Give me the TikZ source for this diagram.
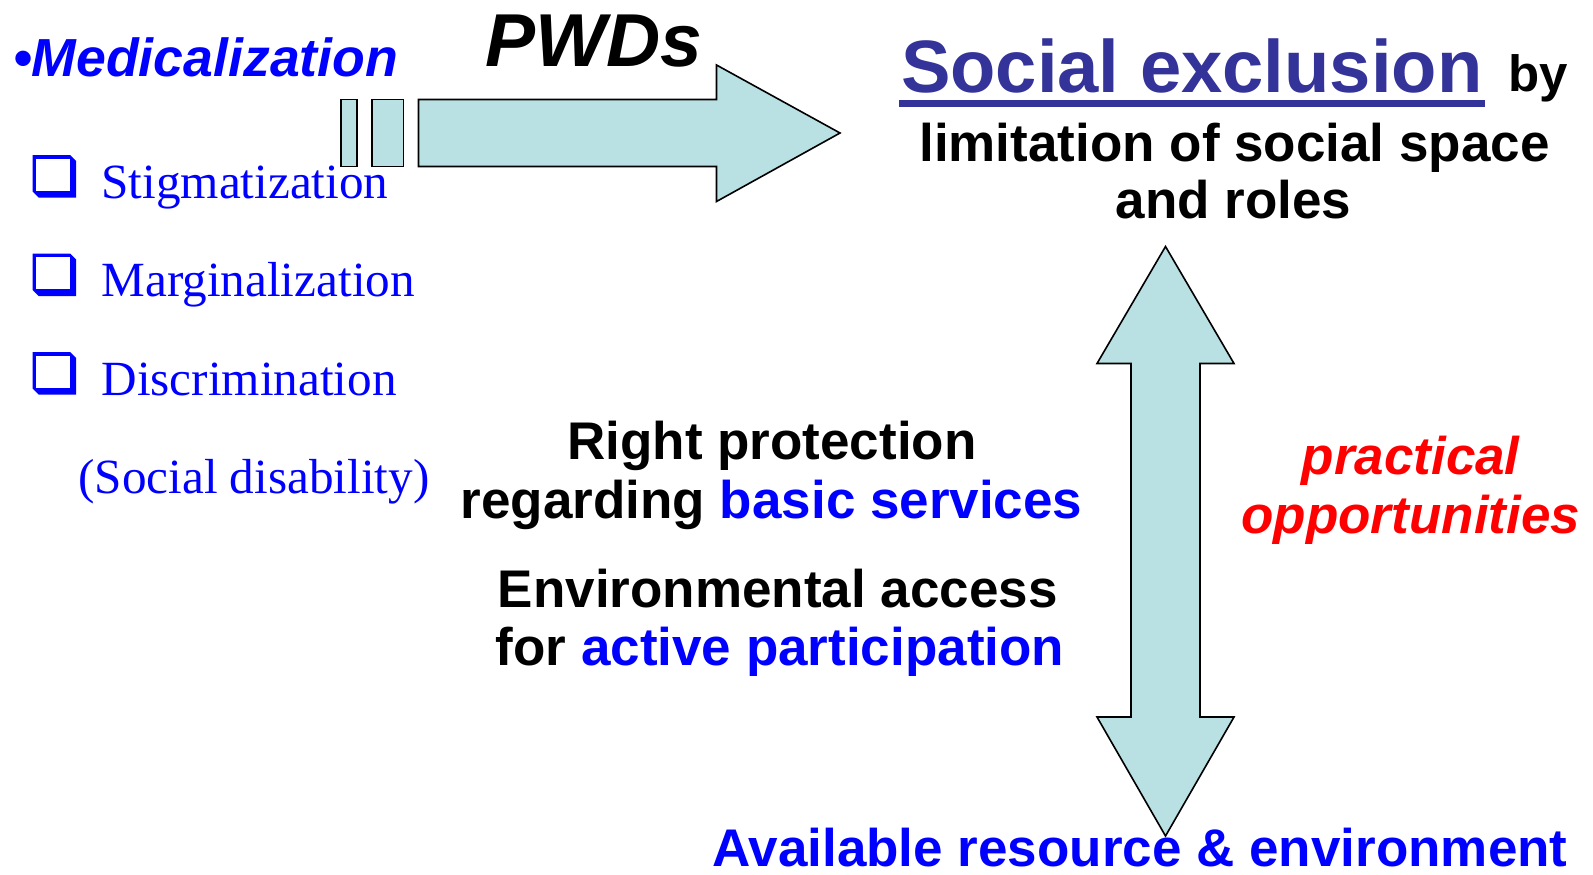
\documentclass[tikz,border=0pt]{standalone}
\usepackage{fontspec}
\setmainfont{Liberation Serif}
\newfontfamily\arial{Liberation Sans}
\definecolor{pblue}{HTML}{0000FF}
\definecolor{sxblue}{HTML}{333399}
\definecolor{afill}{HTML}{B9E0E3}
\definecolor{pred}{HTML}{FF0000}
\begin{document}
\begin{tikzpicture}[x=0.5pt,y=-0.5pt,
  txt/.style={inner sep=0pt, outer sep=0pt},
  ashape/.style={draw=black, fill=afill, line width=0.8pt, line join=miter},
  serifitem/.style={txt, anchor=base west, text=pblue, font=\fontsize{24.6pt}{28pt}\selectfont},
  sansb/.style={txt, font=\arial\bfseries\fontsize{26.5pt}{30pt}\selectfont},
  qbox/.pic={
    \fill[pblue] (0,0) -- (37.5,0) -- (43.5,6) -- (43.5,42.5) -- (6,42.5) -- (0,36.5) -- cycle;
    \fill[white] (3.5,3.5) rectangle (37.3,35.5);
  }]
\useasboundingbox (0,0) rectangle (1593,874);

% top arrow
\draw[ashape] (341,99.5) rectangle (357,166.5);
\draw[ashape] (372,99.5) rectangle (403.5,166.5);
\draw[ashape] (418.5,99.5) -- (716.5,99.5) -- (716.5,65) -- (840,133) -- (716.5,201.5) -- (716.5,166.5) -- (418.5,166.5) -- cycle;

% vertical double arrow
\draw[ashape] (1165.5,246.5) -- (1234,363.5) -- (1200,363.5) -- (1200,717) -- (1234,717) -- (1165.5,836) -- (1097,717) -- (1131,717) -- (1131,363.5) -- (1097,363.5) -- cycle;

% left column
\node[txt, anchor=base west, text=pblue, font=\arial\bfseries\itshape\fontsize{26.8pt}{30pt}\selectfont] (med) at (13,76) {•Medicalization};
\node[txt, anchor=base west, font=\arial\bfseries\itshape\fontsize{37.5pt}{40pt}\selectfont] (pwd) at (485.6,66) {PWDs};

\pic at (32.7,155) {qbox};
\pic at (32.7,253.5) {qbox};
\pic at (32.7,352) {qbox};
\node[serifitem] (stig) at (101.5,198.3) {Stigmatization};
\node[serifitem] (marg) at (101.5,296) {Marginalization};
\node[serifitem] (disc) at (101.5,395) {Discrimination};
\node[serifitem] (sdis) at (78.3,493) {(Social disability)};

% top right
\node[txt, anchor=base west, text=sxblue, font=\arial\bfseries\fontsize{37.1pt}{40pt}\selectfont] (sx) at (901,92.5) {Social exclusion};
\fill[sxblue] (899,100) rectangle (1485,106.5);
\node[txt, anchor=base west, font=\arial\bfseries\fontsize{25.5pt}{28pt}\selectfont] (by) at (1508,91.7) {by};
\node[sansb, anchor=base] (lim) at (1234.5,161) {limitation of social space};
\node[sansb, anchor=base] (roles) at (1233.5,218) {and roles};

% middle
\node[sansb, anchor=base] (rp1) at (772,459) {Right protection};
\node[sansb, anchor=base] (rp2) at (771.6,518) {regarding \textcolor{pblue}{basic services}};
\node[sansb, anchor=base] (ea1) at (777.7,607.6) {Environmental access};
\node[sansb, anchor=base] (ea2) at (780,665.5) {for \textcolor{pblue}{active participation}};

% right
\node[sansb, anchor=base, text=pred, font=\arial\bfseries\itshape\fontsize{26.5pt}{30pt}\selectfont] (pr1) at (1410.7,474.5) {practical};
\node[sansb, anchor=base, text=pred, font=\arial\bfseries\itshape\fontsize{26.5pt}{30pt}\selectfont] (pr2) at (1410.7,533.4) {opportunities};

% bottom
\node[sansb, anchor=base, text=pblue, font=\arial\bfseries\fontsize{26.5pt}{30pt}\selectfont] (avail) at (1140,866.5) {Available resource \& environment};
\end{tikzpicture}
\end{document}
